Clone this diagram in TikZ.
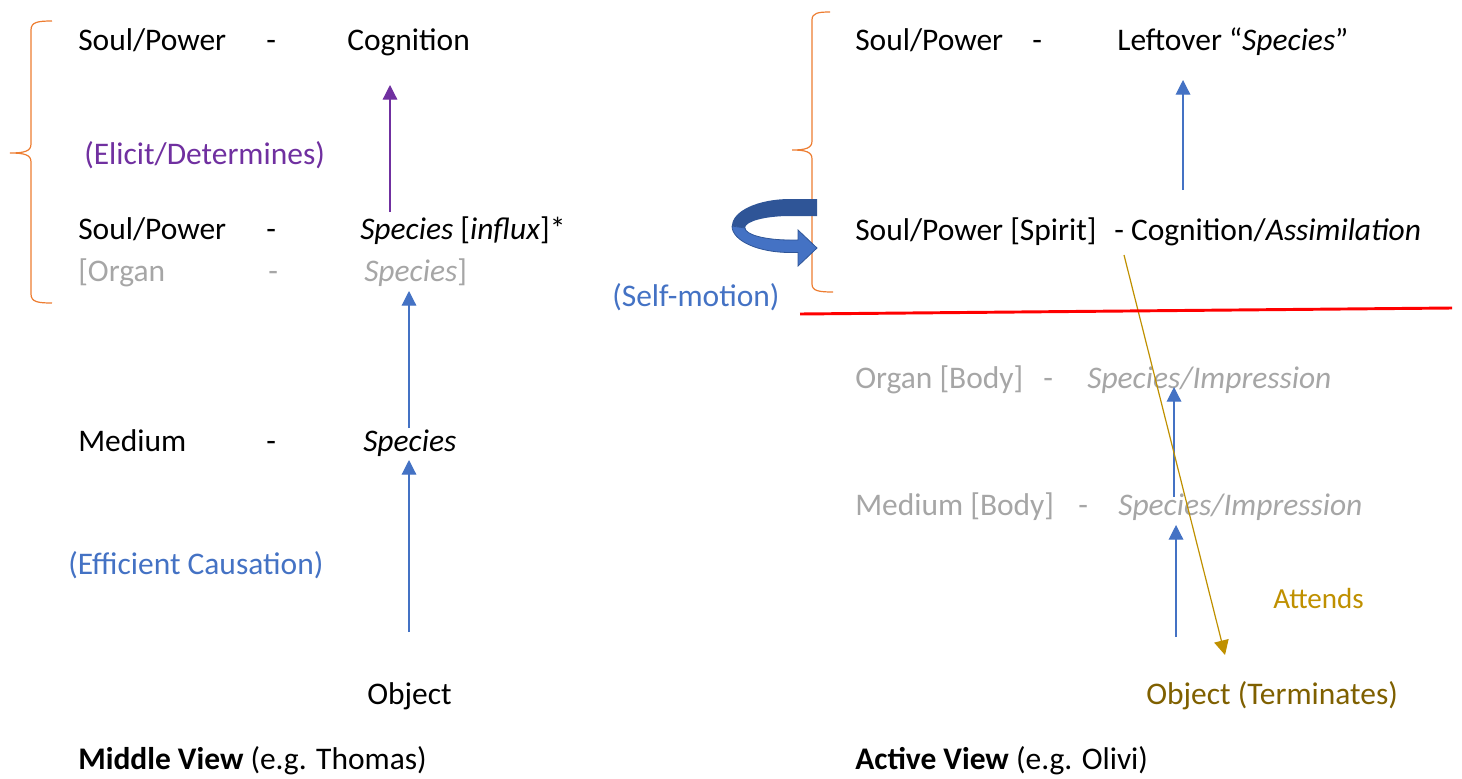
\documentclass[tikz,border=0pt]{standalone}
\usepackage{fontspec}
\setmainfont{Carlito}
\usetikzlibrary{arrows.meta}
\definecolor{accblue}{HTML}{4472C4}
\definecolor{deepblue}{HTML}{2F5597}
\definecolor{purp}{HTML}{7030A0}
\definecolor{brorange}{HTML}{ED7D31}
\definecolor{greytext}{HTML}{A6A6A6}
\definecolor{gold}{HTML}{BF9000}
\definecolor{darkgold}{HTML}{7F6000}
\tikzstyle{lbl}=[anchor=base west, inner sep=0pt, font=\fontsize{23.6}{28}\selectfont]
\tikzstyle{faint}=[lbl, text=greytext]
\tikzstyle{up>}=[-{Triangle[width=11pt,length=11pt]}, line width=0.9pt]
\tikzstyle{brace}=[brorange, line width=0.9pt]

\begin{document}
\begin{tikzpicture}[x=0.75pt,y=-0.75pt]
\useasboundingbox (0,0) rectangle (1462,778);

% middle view
\node[lbl] (lsoulA) at (78,50) {Soul/Power};
\node[lbl] (lcog) at (347,50) {Cognition};
\node[lbl, text=purp] (elicit) at (84,164) {(Elicit/Determines)};
\node[lbl] (lsoulB) at (78,239) {Soul/Power};
\node[lbl] (linflux) at (360,239) {\textit{Species} [\textit{influx}]*};
\node[faint] (lorgan) at (78,281) {[Organ};
\node[faint] (lorgdash) at (268,281) {-};
\node[faint] (lorgspec) at (364,281) {\textit{Species}]};
\node[lbl] (lmedium) at (78,451) {Medium};
\node[lbl] (lmedspec) at (363,451) {\textit{Species}};
\node[lbl, text=accblue] (effic) at (68,574) {(Efficient Causation)};
\node[lbl] (lobject) at (367,704) {Object};
\node[lbl] (midview) at (78,769) {\textbf{Middle View} (e.g. Thomas)};
\foreach \y/\n in {50/a,239/b,451/c} {
	\node[lbl] (ldash\n) at (266,\y) {-};
}

% active view
\node[lbl] (rsoulA) at (855,50) {Soul/Power};
\node[lbl] (rdashA) at (1032,50) {-};
\node[lbl] (rleft) at (1117,50) {Leftover “\textit{Species}”};
\node[lbl] (rsoulB) at (855,240) {Soul/Power [Spirit]};
\node[lbl] (rcog) at (1114,240) {- Cognition/\textit{Assimilation}};
\node[lbl, text=accblue] (selfmo) at (612,306) {(Self-motion)};
\node[faint] (rorgan) at (855,388) {Organ [Body]};
\node[faint] (rorgdash) at (1043,388) {-};
\node[faint] (rorgspec) at (1087,388) {\textit{Species/Impression}};
\node[faint] (rmedium) at (855,515) {Medium [Body]};
\node[faint] (rmeddash) at (1078,515) {-};
\node[faint] (rmedspec) at (1118,515) {\textit{Species/Impression}};
\node[lbl, text=gold, font=\fontsize{21.8}{26}\selectfont] (attends) at (1273,608) {Attends};
\node[lbl, text=darkgold] (robject) at (1146,704) {Object (Terminates)};
\node[lbl] (actview) at (855,769) {\textbf{Active View} (e.g. Olivi)};

% arrow ends
\coordinate (pS) at (390,212); \coordinate (pE) at (390,85);
\coordinate (bS1) at (409,632); \coordinate (bE1) at (409,460);
\coordinate (bS2) at (409,428); \coordinate (bE2) at (409,291);
\coordinate (rS0) at (1183,190); \coordinate (rE0) at (1183,80);
\coordinate (rS1) at (1176,637); \coordinate (rE1) at (1176,525);
\coordinate (rS2) at (1174,497); \coordinate (rE2) at (1174,387);
\coordinate (gS) at (1124,255); \coordinate (gE) at (1225,655);
\coordinate (redA) at (800,314); \coordinate (redB) at (1452,308);

\draw[up>, purp] (pS) -- (pE);
\draw[up>, accblue] (bS1) -- (bE1);
\draw[up>, accblue] (bS2) -- (bE2);
\draw[up>, accblue] (rS0) -- (rE0);
\draw[up>, accblue] (rS1) -- (rE1);
\draw[up>, accblue] (rS2) -- (rE2);
\draw[up>, gold] (gS) -- (gE);
\draw[red, line width=2.2pt] (redA) -- (redB);

% braces
\draw[brace] (52,21) .. controls (38,21) and (31,22) .. (31,30) -- (31,144)
	.. controls (31,151) and (25,153) .. (10,153) .. controls (25,153) and (31,155) .. (31,162)
	-- (31,294) .. controls (31,302) and (38,303) .. (52,303);
\draw[brace] (830,12) .. controls (818,12) and (812,13) .. (812,20) -- (812,141)
	.. controls (812,148) and (806,150) .. (792,150) .. controls (806,150) and (812,152) .. (812,159)
	-- (812,284) .. controls (812,291) and (819,292) .. (833,292);

% self-motion arrow
\fill[deepblue] (817,199) -- (790,199) arc[start angle=-90, end angle=-180, x radius=58, y radius=27]
	-- (745,228) arc[start angle=180, end angle=270, x radius=45, y radius=12] -- (817,216) -- cycle;
\filldraw[fill=accblue, draw=deepblue, line width=0.6pt] (732,226) arc[start angle=180, end angle=90, x radius=58, y radius=26.5]
	-- (798,252.5) -- (798,266) -- (817,248) -- (798,230) -- (798,240) -- (790,240)
	arc[start angle=90, end angle=180, x radius=45, y radius=12] -- cycle;
\end{tikzpicture}
\end{document}
